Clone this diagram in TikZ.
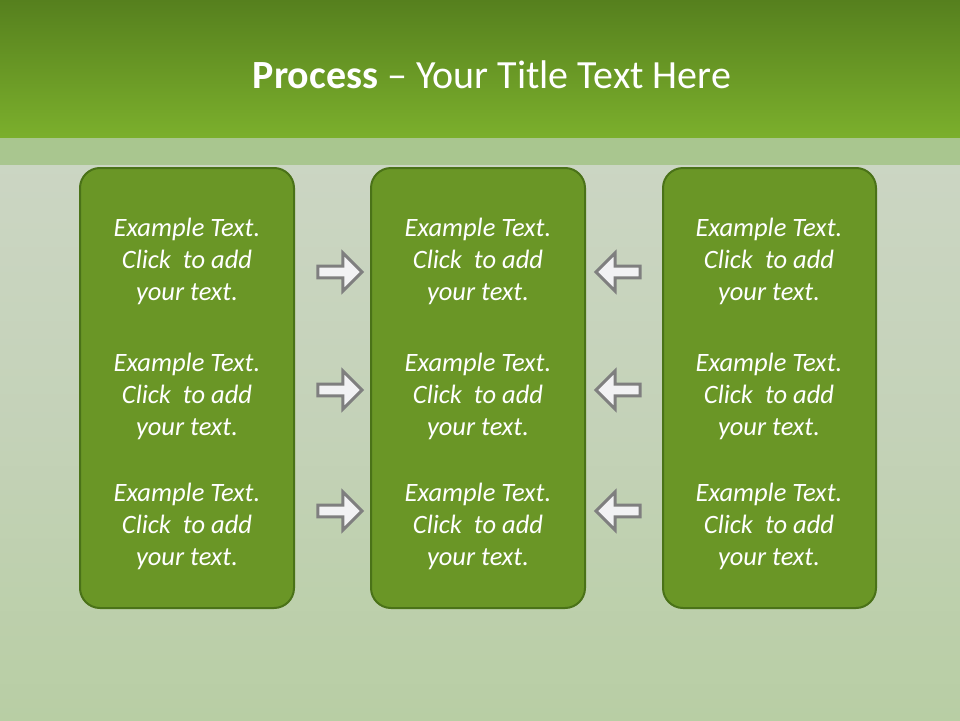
\documentclass[tikz,border=0pt]{standalone}
\usepackage{fontspec}
\setmainfont{Carlito}
\usetikzlibrary{shapes.arrows}
\definecolor{topdark}{HTML}{56801E}
\definecolor{toplight}{HTML}{7BAF2C}
\definecolor{bandc}{HTML}{A9C68F}
\definecolor{bgtop}{HTML}{CCD6C4}
\definecolor{bgmid}{HTML}{C4D2B8}
\definecolor{bgbot}{HTML}{B8CEA4}
\definecolor{boxfill}{HTML}{6A9626}
\definecolor{boxline}{HTML}{4A7218}
\definecolor{arrfill}{HTML}{F2F2F4}
\definecolor{arrline}{HTML}{7F7F7F}
\tikzset{
  x=1pt, y=-1pt,
  panel/.style={draw=boxline, line width=2pt, fill=boxfill, rounded corners=20pt},
  txt/.style={text=white, font=\fontsize{26.5}{32}\selectfont\itshape, align=center},
  arr/.style={single arrow, draw=arrline, fill=arrfill, line width=3pt,
    minimum height=44pt, minimum width=38pt, single arrow head extend=10pt,
    single arrow tip angle=90, inner sep=3pt},
}
\newcommand{\mytext}{Example Text.\\Click \ to add\\your text.}
\begin{document}
\begin{tikzpicture}
\useasboundingbox (0,0) rectangle (960,720);
% background
\shade[top color=bgtop, bottom color=bgmid] (0,137) rectangle (960,430);
\shade[top color=bgmid, bottom color=bgbot] (0,429) rectangle (960,720);
\fill[bandc] (0,137) rectangle (960,165);
\shade[top color=topdark, bottom color=toplight] (0,0) rectangle (960,137);
% title
\node[text=white, font=\fontsize{40}{44}\selectfont] (title) at (492,75) {\textbf{Process} – Your Title Text Here};
% panels
\foreach \nm/\xa/\xb in {L/80/294, M/371/585, R/663/876}{
  \draw[panel] (\xa,168) rectangle (\xb,608);
}
\foreach \nm/\cx in {L/187, M/478, R/769}{
  \foreach \i/\cy in {1/261, 2/396, 3/526}{
    \node[txt] (t\nm\i) at (\cx,\cy) {\mytext};
  }
}
% arrows
\foreach \i/\cy in {1/272, 2/390, 3/511}{
  \node[arr] (ra\i) at (337,\cy) {};
  \node[arr, shape border rotate=180] (la\i) at (621,\cy) {};
}
\end{tikzpicture}
\end{document}
